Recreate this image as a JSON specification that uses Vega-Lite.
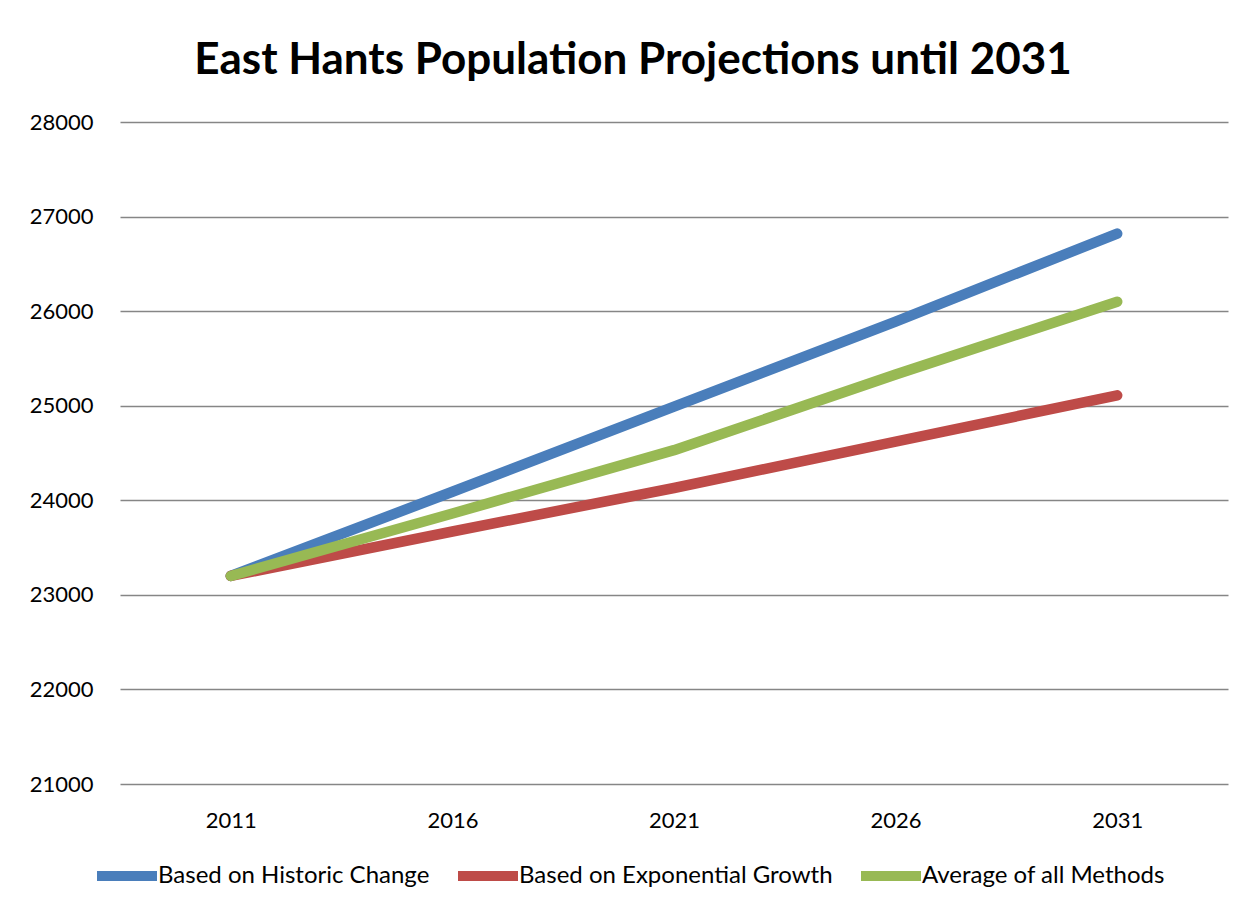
{
  "$schema": "https://vega.github.io/schema/vega-lite/v6.json",
  "autosize": {"type": "none"},
  "width": 1108,
  "height": 662,
  "padding": {"left": 120, "top": 122, "right": 26, "bottom": 128},
  "background": "white",
  "title": {
    "text": "East Hants Population Projections until 2031",
    "font": "Lato",
    "fontWeight": "bold",
    "fontSize": 44,
    "color": "#000000",
    "anchor": "middle",
    "baseline": "alphabetic",
    "offset": 45,
    "dx": -41,
    "dy": 52
  },
  "config": {
    "view": {"stroke": null},
    "font": "Lato"
  },
  "data": {
    "values": [
      {"year": "2011", "series": "Based on Historic Change", "value": 23200},
      {"year": "2016", "series": "Based on Historic Change", "value": 24090},
      {"year": "2021", "series": "Based on Historic Change", "value": 24990},
      {"year": "2026", "series": "Based on Historic Change", "value": 25890},
      {"year": "2031", "series": "Based on Historic Change", "value": 26820},
      {"year": "2011", "series": "Based on Exponential Growth", "value": 23200},
      {"year": "2016", "series": "Based on Exponential Growth", "value": 23670},
      {"year": "2021", "series": "Based on Exponential Growth", "value": 24130},
      {"year": "2026", "series": "Based on Exponential Growth", "value": 24620},
      {"year": "2031", "series": "Based on Exponential Growth", "value": 25110},
      {"year": "2011", "series": "Average of all Methods", "value": 23200},
      {"year": "2016", "series": "Average of all Methods", "value": 23860},
      {"year": "2021", "series": "Average of all Methods", "value": 24530},
      {"year": "2026", "series": "Average of all Methods", "value": 25330},
      {"year": "2031", "series": "Average of all Methods", "value": 26100}
    ]
  },
  "mark": {"type": "line", "strokeWidth": 10.5, "strokeCap": "round", "strokeJoin": "round"},
  "encoding": {
    "x": {
      "field": "year",
      "type": "ordinal",
      "scale": {"type": "point", "padding": 0.5},
      "axis": {
        "title": null,
        "labelAngle": 0,
        "labelFontSize": 22,
        "labelColor": "#000000",
        "labelPadding": 26,
        "domain": false,
        "ticks": false,
        "grid": false
      }
    },
    "y": {
      "field": "value",
      "type": "quantitative",
      "scale": {"domain": [21000, 28000], "nice": false, "zero": false},
      "axis": {
        "title": null,
        "values": [21000, 22000, 23000, 24000, 25000, 26000, 27000, 28000],
        "format": "d",
        "labelFontSize": 22,
        "labelColor": "#000000",
        "labelPadding": 27,
        "domain": false,
        "ticks": false,
        "grid": true,
        "gridColor": "#868686",
        "gridWidth": 1.3,
        "gridOpacity": 1
      }
    },
    "color": {
      "field": "series",
      "type": "nominal",
      "scale": {
        "domain": ["Based on Historic Change", "Based on Exponential Growth", "Average of all Methods"],
        "range": ["#4A7EBB", "#BE4B48", "#98B954"]
      },
      "legend": {
        "title": null,
        "orient": "none",
        "direction": "horizontal",
        "legendX": -28,
        "legendY": 719,
        "symbolType": "stroke",
        "symbolSize": 3600,
        "symbolStrokeWidth": 10,
        "labelFontSize": 24,
        "labelColor": "#000000",
        "labelOffset": -4,
        "columnPadding": 8,
        "labelLimit": 400
      }
    }
  }
}
